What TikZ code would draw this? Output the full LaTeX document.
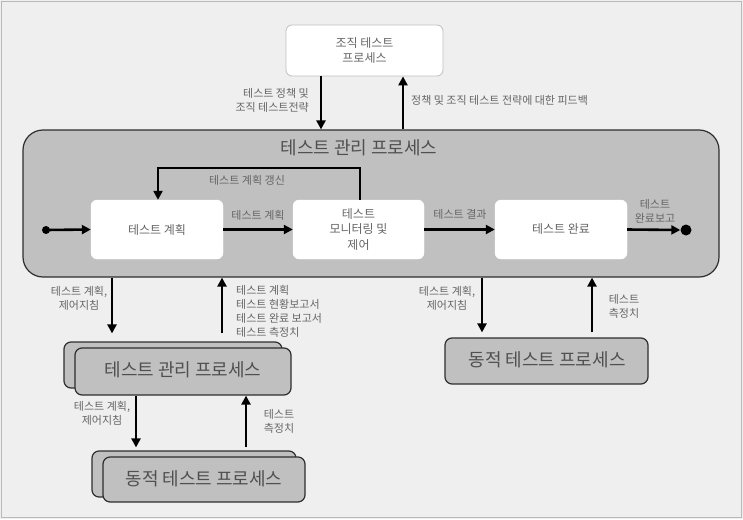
\documentclass[tikz,border=0pt]{standalone}
\usepackage{fontspec}
\setmainfont{Noto Sans CJK KR}
\usetikzlibrary{arrows.meta}
\definecolor{bgc}{HTML}{EFEFEF}
\definecolor{boxg}{HTML}{C0C0C0}
\definecolor{lbl}{HTML}{666666}
\definecolor{ttl}{HTML}{505050}
\definecolor{edge}{HTML}{2E2E2E}
\tikzset{
  arr/.style={draw=black, line width=2.6pt, -{Triangle[length=9pt,width=9pt]}},
  wbox/.style={draw=white, fill=white, rounded corners=6pt, text=lbl, align=center, font=\fontsize{12}{15.5}\selectfont, inner sep=0pt},
  gbox/.style={draw=edge, line width=1.2pt, fill=boxg, rounded corners=7pt, inner sep=0pt},
  bigtxt/.style={text=ttl, font=\fontsize{18}{20}\selectfont},
  small/.style={text=lbl, font=\fontsize{11}{14}\selectfont, inner sep=0pt},
  dot/.style={circle, fill=black, inner sep=0pt}
}
\begin{document}
\begin{tikzpicture}[x=1pt,y=-1pt]
\useasboundingbox (0,0) rectangle (743,519);
\fill[bgc] (0,0) rectangle (743,519);
\draw[gray!55, line width=1pt] (1.5,1.5) rectangle (741.5,517.5);

% top box
\node[wbox, draw=gray!50, line width=0.8pt, minimum width=157, minimum height=51] (org) at (364.5,50.5) {조직 테스트\\프로세스};

% main box
\node[gbox, rounded corners=20pt, minimum width=696, minimum height=147] (main) at (371,203.5) {};
\node[bigtxt] (title) at (359,148) {테스트 관리 프로세스};

\node[wbox, minimum width=132, minimum height=59] (plan) at (157,229.5) {테스트 계획};
\node[wbox, minimum width=131, minimum height=59] (mon) at (358.5,229.5) {테스트\\모니터링 및\\제어};
\node[wbox, minimum width=132, minimum height=59] (done) at (561,229.5) {테스트 완료};

\node[dot, minimum size=8pt] (s) at (46,230) {};
\node[dot, minimum size=11pt] (e) at (686,230) {};

\draw[arr] (s.center) -- (plan.west);
\draw[arr] (plan.east) -- (mon.west);
\draw[arr] (mon.east) -- (done.west);
\draw[arr] (done.east) -- (e.west);

\coordinate (lp) at (0,168);
\coordinate (mx) at (360,0);
\coordinate (px) at (158,0);
\draw[arr] (mon.north -| mx) -- (lp -| mx) -- (lp -| px) -- (plan.north -| px);

\node[small] (upd) at (247,180) {테스트 계획 갱신};
\node[small] (l1) at (258,215) {테스트 계획};
\node[small] (l2) at (460,214) {테스트 결과};
\node[small, align=center] (l3) at (655,211) {테스트\\완료보고};

% top arrows
\coordinate (d1) at (321,0);
\coordinate (u1) at (403,0);
\draw[arr] (org.south -| d1) -- (main.north -| d1);
\draw[arr] (main.north -| u1) -- (org.south -| u1);
\node[small, align=right, anchor=east] (pol) at (309,100) {테스트 정책 및\\조직 테스트전략};
\node[small, anchor=west] (fb) at (411,100) {정책 및 조직 테스트 전략에 대한 피드백};

% lower left stacked box
\node[gbox, minimum width=218, minimum height=46] (mgmtb) at (173,365) {};
\node[gbox, minimum width=216, minimum height=47] (mgmt) at (183,371.5) {};
\node[bigtxt] (mgmtt) at (183,370) {테스트 관리 프로세스};

% right dynamic box
\node[gbox, minimum width=203, minimum height=46] (dyn) at (546.5,361) {};
\node[bigtxt] (dynt) at (547,360) {동적 테스트 프로세스};

% bottom stacked box
\node[gbox, minimum width=204, minimum height=46] (dyn2b) at (194,474) {};
\node[gbox, minimum width=202, minimum height=45] (dyn2) at (204,479.5) {};
\node[bigtxt] (dyn2t) at (204,479) {동적 테스트 프로세스};

% arrows below main
\coordinate (a1) at (112,0);
\coordinate (a2) at (222,0);
\coordinate (a3) at (482,0);
\coordinate (a4) at (592,0);
\draw[arr, shorten >=8pt] (main.south -| a1) -- (mgmtb.north -| a1);
\draw[arr, shorten <=8pt] (mgmtb.north -| a2) -- (main.south -| a2);
\draw[arr, shorten >=5pt] (main.south -| a3) -- (dyn.north -| a3);
\draw[arr, shorten <=5pt] (dyn.north -| a4) -- (main.south -| a4);

\node[small, align=center] (l4) at (79,298) {테스트 계획,\\제어지침};
\node[small, align=left, anchor=west] (l5) at (236,311.5) {테스트 계획\\테스트 현황보고서\\테스트 완료 보고서\\테스트 측정치};
\node[small, align=center] (l6) at (447,298) {테스트 계획,\\제어지침};
\node[small, align=center] (l7) at (624,306) {테스트\\측정치};

% arrows between lower boxes
\coordinate (b1) at (136,0);
\coordinate (b2) at (246,0);
\draw[arr, shorten >=3pt] (mgmt.south -| b1) -- (dyn2b.north -| b1);
\draw[arr, shorten <=3pt] (dyn2b.north -| b2) -- (mgmt.south -| b2);
\node[small, align=center] (l8) at (102,413) {테스트 계획,\\제어지침};
\node[small, align=center] (l9) at (279,421) {테스트\\측정치};
\end{tikzpicture}
\end{document}
